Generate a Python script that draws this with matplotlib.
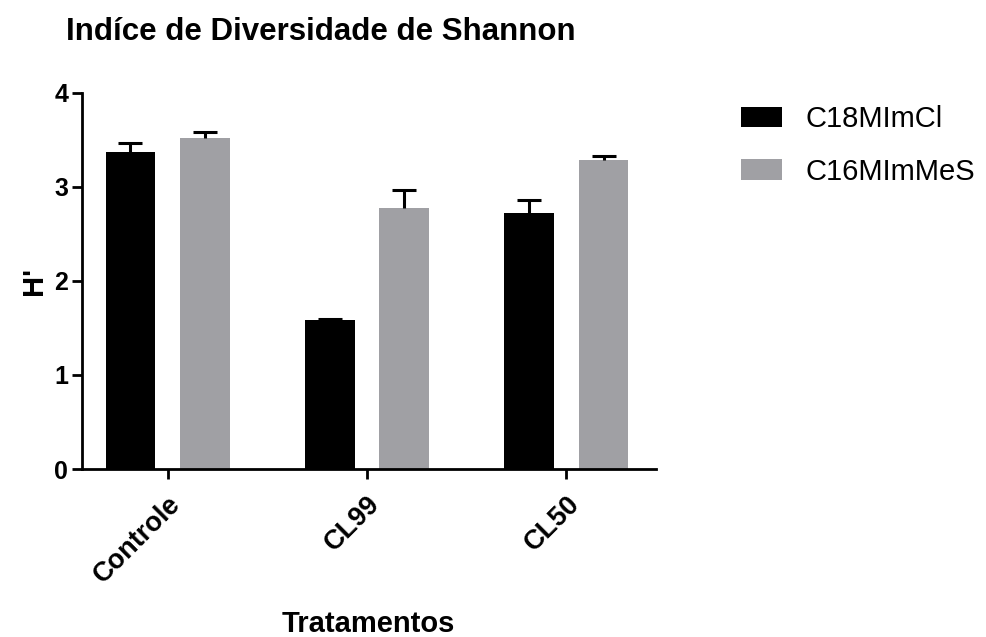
import numpy as np
import matplotlib
matplotlib.use('Agg')
from matplotlib import pyplot as plt

plt.rcParams['font.family'] = ['Liberation Sans', 'DejaVu Sans']

groups = ['Controle', 'CL99', 'CL50']
series = ['C18MImCl', 'C16MImMeS']
h_c18 = [3.37, 1.585, 2.72]
err_c18 = [0.10, 0.015, 0.14]
h_c16 = [3.52, 2.77, 3.28]
err_c16 = [0.06, 0.20, 0.05]
colors = ['#000000', '#a0a0a4']

fig = plt.figure(figsize=(9.87, 6.37), dpi=100)
ax = fig.add_axes([0.0831, 0.2637, 0.5815, 0.5907])

x = np.arange(len(groups))
w = 0.25
off = 0.187
for vals, errs, col, lab, dx in [(h_c18, err_c18, colors[0], series[0], -off),
                                 (h_c16, err_c16, colors[1], series[1], off)]:
    ax.bar(x + dx, vals, width=w, color=col, label=lab, zorder=2)
    # only the upper half of the error bar is drawn
    _, caps, _ = ax.errorbar(x + dx, vals, yerr=[np.zeros(len(errs)), errs], fmt='none',
                             ecolor='black', elinewidth=2.2, capsize=8.5, capthick=2.2, zorder=3)
    caps[0].set_visible(False)

ax.set_xlim(-0.43, 2.45)
ax.set_ylim(0, 4)
ax.set_yticks([0, 1, 2, 3, 4])
ax.set_xticks(x)
ax.set_xticklabels(groups, rotation=45, ha='right', va='top', rotation_mode='anchor')

for s in ['top', 'right']:
    ax.spines[s].set_visible(False)
for s in ['left', 'bottom']:
    ax.spines[s].set_linewidth(2)
ax.tick_params(axis='both', width=2, length=7, labelsize=18, pad=3)
ax.tick_params(axis='x', labelsize=19.5, pad=9)
for t in ax.get_xticklabels() + ax.get_yticklabels():
    t.set_fontweight('bold')

ax.set_ylabel("H'", fontsize=21, fontweight='bold')
ax.yaxis.set_label_coords(-0.06, 0.5)
fig.text(0.373, 0.008, 'Tratamentos', fontsize=21, fontweight='bold', ha='center', va='baseline')
fig.text(0.067, 0.95, 'Indíce de Diversidade de Shannon', fontsize=22.5, fontweight='bold',
         ha='left', va='center')

fig.legend(loc='upper left', bbox_to_anchor=(0.751, 0.835), frameon=False, fontsize=21,
           handlelength=1.4, handleheight=0.72, handletextpad=0.79, labelspacing=0.84,
           borderaxespad=0, borderpad=0)

fig.savefig('out.png', dpi=100)
